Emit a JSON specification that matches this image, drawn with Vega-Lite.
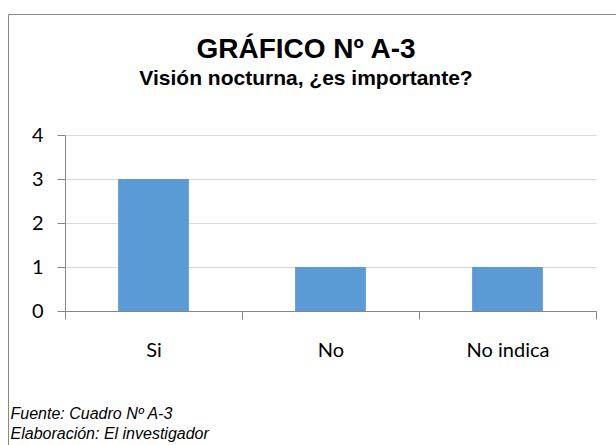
{
  "$schema": "https://vega.github.io/schema/vega-lite/v6.json",
  "width": 612,
  "height": 436,
  "autosize": {"type": "none"},
  "padding": {"left": 8, "top": 14, "right": -4, "bottom": -5},
  "background": "white",
  "title": {
    "text": "GRÁFICO Nº A-3",
    "subtitle": "Visión nocturna, ¿es importante?",
    "font": "Liberation Sans",
    "fontSize": 28,
    "fontWeight": "bold",
    "color": "black",
    "subtitleFont": "Liberation Sans",
    "subtitleFontSize": 21,
    "subtitleFontWeight": "bold",
    "subtitleColor": "black",
    "subtitlePadding": 4,
    "anchor": "middle",
    "frame": "group",
    "dx": -8,
    "dy": 79
  },
  "data": {
    "values": [
      {"respuesta": "Si", "cantidad": 3},
      {"respuesta": "No", "cantidad": 1},
      {"respuesta": "No indica", "cantidad": 1}
    ]
  },
  "mark": {"type": "bar", "color": "#5B9BD5", "width": {"band": 0.4}},
  "encoding": {
    "x": {
      "field": "respuesta",
      "type": "nominal",
      "sort": ["Si", "No", "No indica"],
      "scale": {"range": [57, 588], "paddingInner": 0, "paddingOuter": 0},
      "axis": {
        "orient": "bottom",
        "offset": -139,
        "title": ["Fuente: Cuadro Nº A-3", "Elaboración: El investigador"],
        "titleFont": "Liberation Sans",
        "titleFontSize": 16,
        "titleFontStyle": "italic",
        "titleFontWeight": "normal",
        "titleColor": "black",
        "titleAlign": "left",
        "titleBaseline": "alphabetic",
        "titleAngle": 0,
        "titleX": 2,
        "titleY": 107,
        "titleLineHeight": 20,
        "labelAngle": 0,
        "labelFont": "Lato",
        "labelFontSize": 20,
        "labelColor": "black",
        "labelPadding": 21,
        "tickBand": "extent",
        "tickSize": 8,
        "tickColor": "#868686",
        "domainColor": "#868686",
        "grid": false
      }
    },
    "y": {
      "field": "cantidad",
      "type": "quantitative",
      "scale": {"domain": [0, 4], "range": [297, 121], "nice": false},
      "axis": {
        "orient": "left",
        "offset": -57,
        "title": null,
        "values": [0, 1, 2, 3, 4],
        "labelFont": "Lato",
        "labelFontSize": 20,
        "labelColor": "black",
        "labelPadding": 14,
        "tickSize": 8,
        "tickColor": "#868686",
        "domainColor": "#868686",
        "grid": true,
        "gridColor": "#D9D9D9"
      }
    }
  },
  "config": {"view": {"stroke": "#888888", "strokeWidth": 1}}
}
